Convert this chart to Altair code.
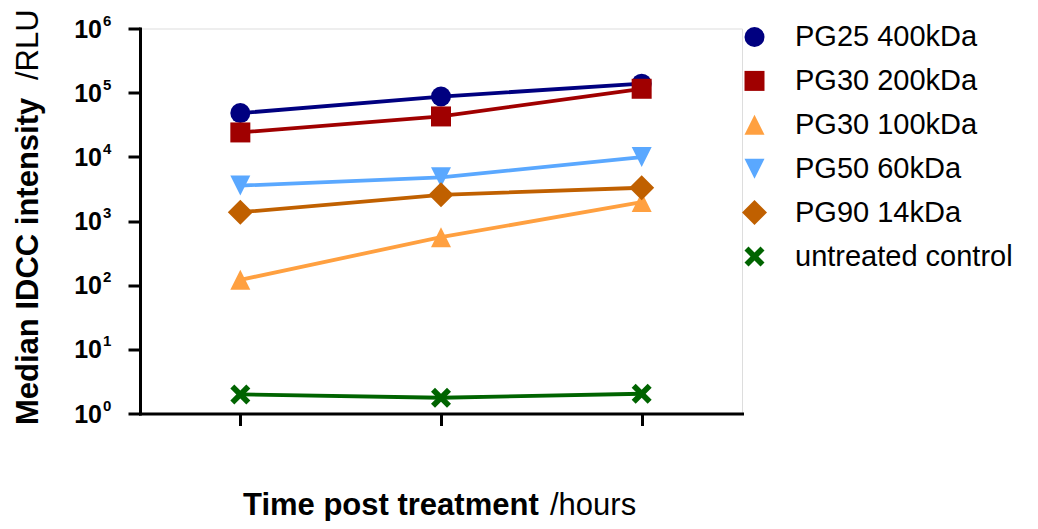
import altair as alt
import pandas as pd

# ---- data ----
time_points = [1, 2, 3]
series_names = ["PG25 400kDa", "PG30 200kDa", "PG30 100kDa",
                "PG50 60kDa", "PG90 14kDa", "untreated control"]
pg25_400kda = [4.8e4, 8.7e4, 1.38e5]
pg30_200kda = [2.4e4, 4.26e4, 1.15e5]
pg30_100kda = [121, 560, 1970]
pg50_60kda = [3560, 4800, 9900]
pg90_14kda = [1370, 2560, 3300]
untreated_control = [1.98, 1.76, 2.03]

series_colors = ["#000080", "#A00000", "#FFA040", "#5AA8FF", "#C06000", "#006400"]
series_shapes = [
    "circle",
    "square",
    "M0,-1L1,1L-1,1Z",
    "M0,1L1,-1L-1,-1Z",
    "M-1.25,0L0,-1.25L1.25,0L0,1.25Z",
    "M-1,-0.6L-0.6,-1L0,-0.4L0.6,-1L1,-0.6L0.4,0L1,0.6L0.6,1L0,0.4L-0.6,1L-1,0.6L-0.4,0Z",
]

y_tick_values = [1, 10, 100, 1000, 10000, 100000, 1000000]
y_tick_exponents = ["0", "1", "2", "3", "4", "5", "6"]
y_title_bold = "Median IDCC intensity"
y_title_unit = "/RLU"
x_title_bold = "Time post treatment"
x_title_unit = "/hours"

FONT = "Liberation Sans"

all_values = [pg25_400kda, pg30_200kda, pg30_100kda, pg50_60kda, pg90_14kda, untreated_control]
rows = []
for name, vals in zip(series_names, all_values):
    for t, v in zip(time_points, vals):
        rows.append({"series": name, "time": t, "value": v})
df = pd.DataFrame(rows)

W, H = 602, 385

x_scale = alt.Scale(domain=[0.5, 3.5], nice=False, zero=False)
y_scale = alt.Scale(type="log", domain=[1, 1000000], nice=False)

x_enc = alt.X("time:Q", scale=x_scale,
              axis=alt.Axis(values=time_points, labels=False, title=None, grid=False,
                            tickSize=12, tickWidth=3, tickColor="black",
                            domainWidth=3, domainColor="black", domainCap="square"))
y_enc = alt.Y("value:Q", scale=y_scale,
              axis=alt.Axis(values=y_tick_values, labels=False, title=None, grid=False,
                            tickSize=12, tickWidth=3, tickColor="black",
                            domainWidth=3, domainColor="black", domainCap="square"))

base = alt.Chart(df)

line_layers = [
    base.transform_filter(alt.datum.series == name)
        .mark_line(strokeWidth=3.8, color=col)
        .encode(x=x_enc, y=y_enc)
    for name, col in zip(series_names, series_colors)
]

legend = alt.Legend(orient="none", legendX=600, legendY=-6, title=None,
                    symbolSize=400, symbolStrokeWidth=0, symbolOpacity=1,
                    labelFont=FONT, labelFontSize=29, labelColor="black",
                    labelOffset=26, rowPadding=13.9, padding=0, labelLimit=500)

points = base.mark_point(filled=True, size=400, opacity=1).encode(
    x=x_enc, y=y_enc,
    color=alt.Color("series:N", scale=alt.Scale(domain=series_names, range=series_colors),
                    legend=legend, sort=series_names),
    shape=alt.Shape("series:N", scale=alt.Scale(domain=series_names, range=series_shapes),
                    legend=legend, sort=series_names),
)

tick_df = pd.DataFrame({"tv": y_tick_values, "ex": y_tick_exponents, "base": ["10"] * 7})
tick_base = alt.Chart(tick_df).mark_text(font=FONT, fontSize=25, fontWeight="bold",
                                         align="right", baseline="middle", dy=1,
                                         color="black").encode(
    x=alt.value(-38), y=alt.Y("tv:Q", scale=y_scale), text="base:N")
tick_exp = alt.Chart(tick_df).mark_text(font=FONT, fontSize=15, fontWeight="bold",
                                        align="left", baseline="middle", dy=-8,
                                        color="black").encode(
    x=alt.value(-37), y=alt.Y("tv:Q", scale=y_scale), text="ex:N")

def label(txt, x, y, bold, angle=0):
    return alt.Chart(pd.DataFrame({"t": [txt]})).mark_text(
        font=FONT, fontSize=31, fontWeight="bold" if bold else "normal",
        align="left", baseline="alphabetic", angle=angle, color="black"
    ).encode(x=alt.value(x), y=alt.value(y), text="t:N")

yt1 = label(y_title_bold, -101.7, 396.5, True, 270)
yt2 = label(y_title_unit, -101.7, 51.5, False, 270)
xt1 = label(x_title_bold, 103, 486, True)
xt2 = label(x_title_unit, 410, 486, False)

chart = alt.layer(*line_layers, points, tick_base, tick_exp, yt1, yt2, xt1, xt2).properties(
    width=W, height=H,
    autosize=alt.AutoSizeParams(type="none"),
    padding={"left": 132, "top": 20.5, "right": 288, "bottom": 107.5},
).configure_view(strokeWidth=0).configure(background="white")

chart.save("out.html", embed_options={"renderer": "svg", "actions": False})
